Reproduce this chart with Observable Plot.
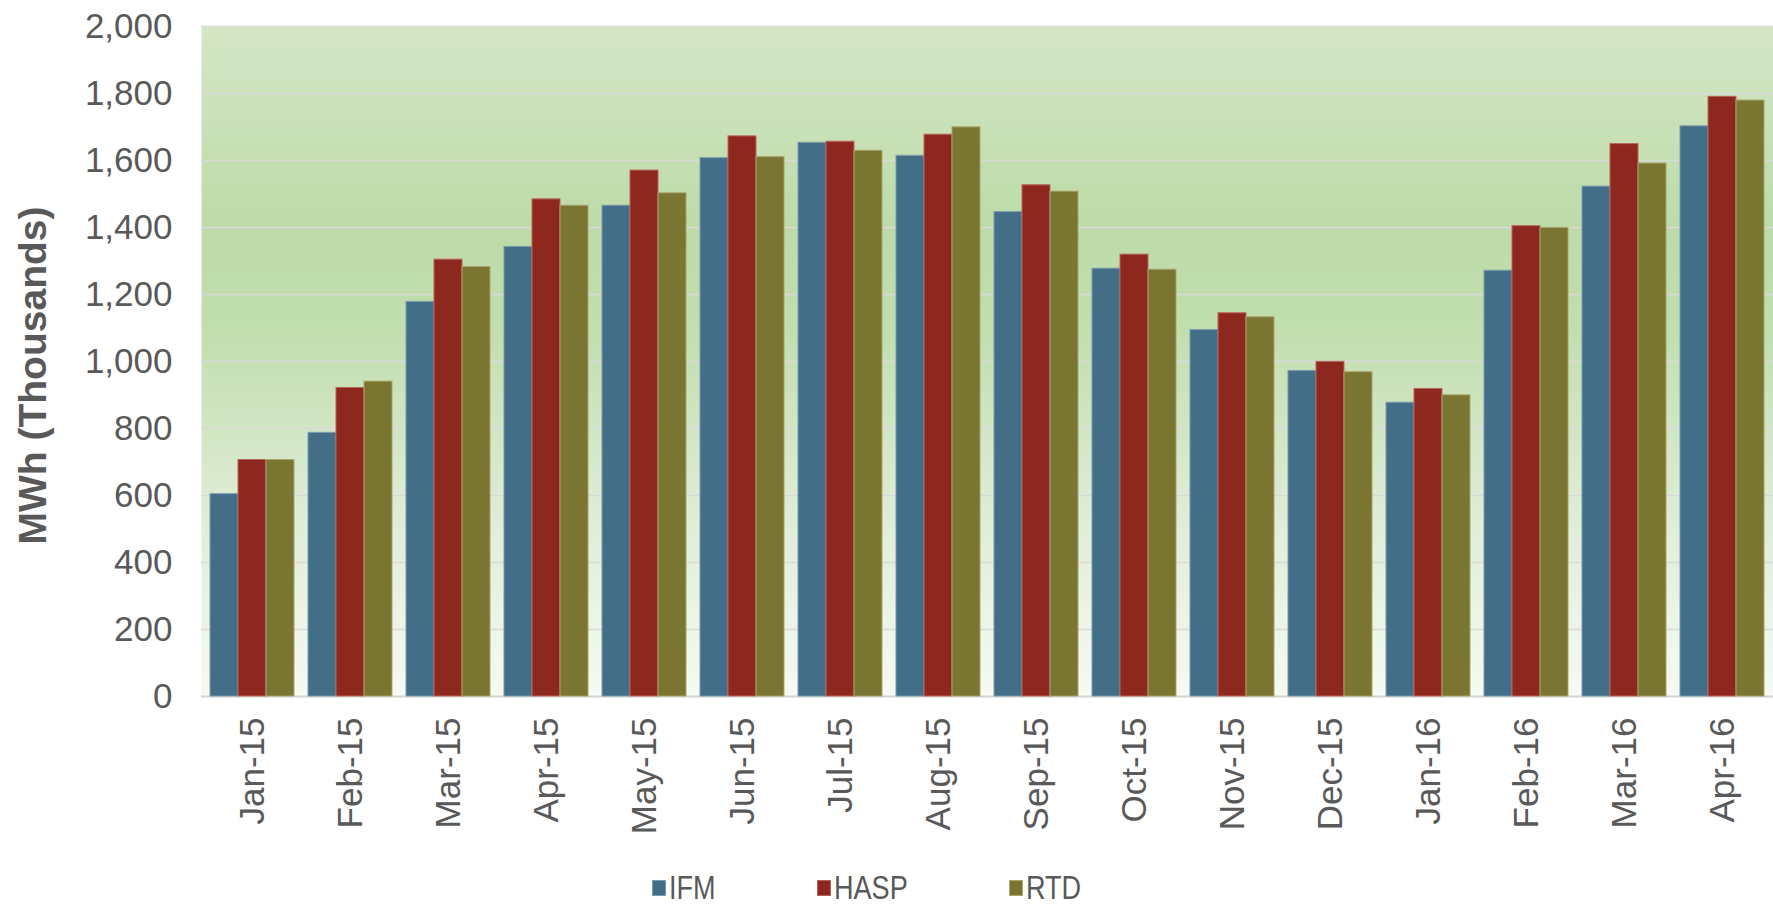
<!DOCTYPE html>
<html>
<head>
<meta charset="utf-8">
<script src="https://cdn.jsdelivr.net/npm/d3@7"></script>
<script src="https://cdn.jsdelivr.net/npm/@observablehq/plot@0.6"></script>
<style>
  html, body { margin: 0; padding: 0; background: #ffffff; overflow: hidden; }
  #chart { width: 1773px; }
  #legend {
    position: relative; height: 43px;
    font-family: "Liberation Sans", Arial, sans-serif;
    font-size: 33px; color: #595959;
  }
  .item { position: absolute; top: 0; height: 43px; display: flex; align-items: center; }
  .sw { width: 14px; height: 16px; margin-right: 3px; box-sizing: border-box; border: 1px solid; }
  .tx { display: inline-block; transform: scaleX(0.82); transform-origin: left center; line-height: 1; }
</style>
</head>
<body>
<div id="chart"></div>
<script>
const months = ["Jan-15","Feb-15","Mar-15","Apr-15","May-15","Jun-15","Jul-15","Aug-15","Sep-15","Oct-15","Nov-15","Dec-15","Jan-16","Feb-16","Mar-16","Apr-16"];
const seriesNames = ["IFM", "HASP", "RTD"];
const ifm  = [604, 787, 1178, 1342, 1465, 1607, 1653, 1614, 1446, 1277, 1094, 972, 877, 1271, 1522, 1702];
const hasp = [706, 921, 1304, 1484, 1570, 1672, 1656, 1677, 1526, 1319, 1144, 999, 918, 1404, 1649, 1790];
const rtd  = [706, 940, 1282, 1465, 1502, 1610, 1629, 1699, 1507, 1274, 1132, 968, 899, 1399, 1591, 1779];
const yTicks = [0, 200, 400, 600, 800, 1000, 1200, 1400, 1600, 1800, 2000];
const yTitle = "MWh (Thousands)";

const fills   = {IFM: "#436e87", HASP: "#8e281e", RTD: "#7a7530"};
const strokes = {IFM: "#7d9cad", HASP: "#b8665d", RTD: "#a8a56c"};

const rows = months.map((m, i) => ({month: m, IFM: ifm[i], HASP: hasp[i], RTD: rtd[i]}));

const W = 1773, H = 866, mL = 201, mR = 0, mT = 26, mB = 170;
const pi = 0.145, po = pi / 2;
const step = (W - mL - mR) / (months.length - pi + 2 * po);
const bw = step * (1 - pi);
const sub = bw / seriesNames.length;

const barMarks = seriesNames.map((s, k) => Plot.barY(rows, {
  x: "month", y: s,
  fill: fills[s], stroke: strokes[s], strokeWidth: 1,
  insetLeft: sub * k, insetRight: sub * (seriesNames.length - 1 - k)
}));

const svg = Plot.plot({
  width: W, height: H,
  marginLeft: mL, marginRight: mR, marginTop: mT, marginBottom: mB,
  style: {fontSize: "35px", fontFamily: "'Liberation Sans', Arial, sans-serif", color: "#595959", background: "#ffffff", overflow: "visible"},
  x: {domain: months, paddingInner: pi, paddingOuter: po, align: 0.5, tickSize: 0, tickPadding: 21, tickRotate: -90, label: null},
  y: {domain: [0, 2000], ticks: yTicks, tickFormat: d3.format(","), tickSize: 0, tickPadding: 29, label: null},
  marks: [
    Plot.frame({fill: "url(#bgGrad)", stroke: null}),
    Plot.ruleY(yTicks.filter(d => d > 0), {stroke: "#d9d9d9", strokeWidth: 1.6}),
    Plot.ruleY([0], {stroke: "#d4d4d4", strokeWidth: 1.8}),
    ...barMarks,
    Plot.text([yTitle], {text: d => d, frameAnchor: "left", textAnchor: "middle", rotate: -90, dx: -168, dy: 14, fontWeight: "bold", fontSize: 39, fill: "#595959"})
  ]
});

const defs = d3.select(svg).insert("defs", ":first-child");
const g = defs.append("linearGradient").attr("id", "bgGrad").attr("x1", 0).attr("y1", 0).attr("x2", 0).attr("y2", 1);
[[0, "#d4e6c6"], [0.3, "#bddba8"], [0.45, "#c1deae"], [0.7, "#dcebd2"], [1, "#f6faf3"]]
  .forEach(([o, c]) => g.append("stop").attr("offset", o).attr("stop-color", c));

const chart = document.getElementById("chart");
chart.appendChild(svg);

const legendLeft = {IFM: 652, HASP: 817, RTD: 1009};
const legend = document.createElement("div");
legend.id = "legend";
seriesNames.forEach(s => {
  const it = document.createElement("div");
  it.className = "item";
  it.style.left = legendLeft[s] + "px";
  const sw = document.createElement("span");
  sw.className = "sw";
  sw.style.background = fills[s];
  sw.style.borderColor = strokes[s];
  const tx = document.createElement("span");
  tx.className = "tx";
  tx.textContent = s;
  it.appendChild(sw); it.appendChild(tx);
  legend.appendChild(it);
});
chart.appendChild(legend);
</script>
</body>
</html>
